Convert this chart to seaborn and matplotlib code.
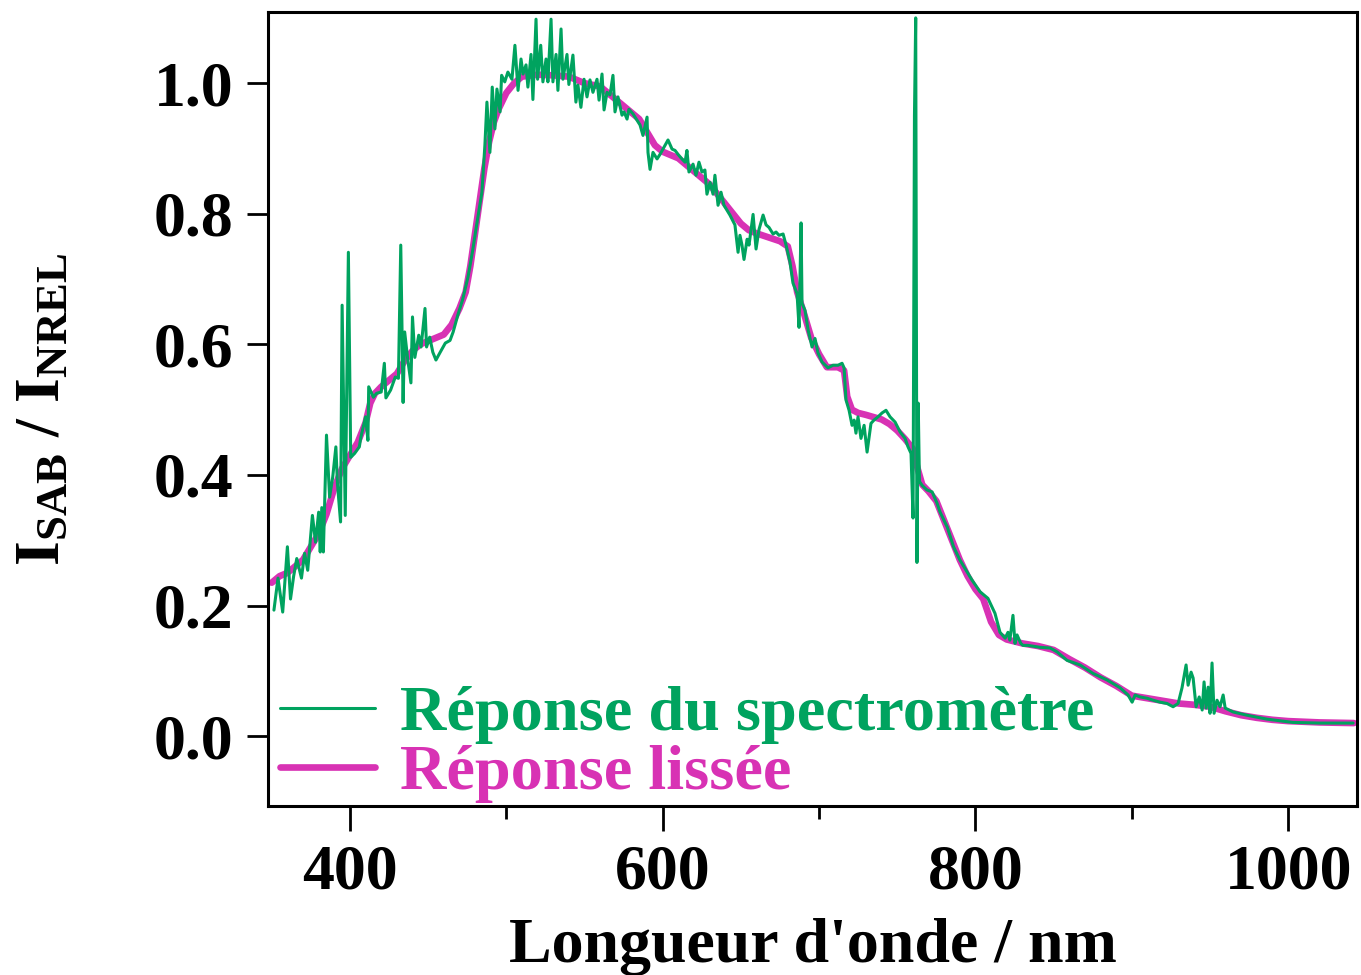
import matplotlib
matplotlib.use("Agg")
import matplotlib.pyplot as plt
import seaborn as sns
import pandas as pd
from matplotlib.ticker import MultipleLocator

# ---------------- data ----------------
smooth_wl = [350, 355, 360, 365, 370, 375, 380, 385, 390, 395, 400, 405, 410, 413, 416,
             420, 425, 430, 435, 440, 445, 450, 455, 460, 465, 470, 474, 477, 480, 483,
             486, 489, 492, 495, 500, 505, 510, 520, 530, 540, 550, 560, 565, 570, 575,
             580, 585, 590, 595, 600, 605, 610, 615, 620, 625, 630, 635, 640, 645, 650,
             655, 660, 670, 675, 680, 683, 686, 690, 695, 700, 705, 712, 716, 718, 721,
             725, 730, 740, 745, 750, 755, 760, 763, 766, 770, 775, 780, 785, 790, 795,
             800, 805, 810, 815, 820, 830, 840, 850, 860, 870, 880, 890, 900, 910, 920,
             930, 940, 950, 960, 970, 980, 990, 1000, 1020, 1042]
smooth_val = [0.235, 0.245, 0.25, 0.26, 0.27, 0.29, 0.31, 0.34, 0.38, 0.41, 0.43, 0.45, 0.48, 0.51, 0.525,
              0.535, 0.545, 0.555, 0.575, 0.59, 0.60, 0.605, 0.61, 0.615, 0.63, 0.655, 0.68, 0.72, 0.77, 0.82,
              0.87, 0.91, 0.94, 0.96, 0.985, 1.0, 1.01, 1.013, 1.012, 1.01, 1.0, 0.995, 0.985, 0.975, 0.965,
              0.955, 0.945, 0.925, 0.905, 0.895, 0.89, 0.885, 0.875, 0.865, 0.855, 0.845, 0.83, 0.815, 0.80, 0.785,
              0.775, 0.77, 0.762, 0.758, 0.75, 0.72, 0.68, 0.65, 0.61, 0.585, 0.565, 0.565, 0.56, 0.52, 0.50,
              0.495, 0.492, 0.485, 0.478, 0.468, 0.455, 0.44, 0.41, 0.385, 0.375, 0.36, 0.33, 0.30, 0.27, 0.245,
              0.225, 0.21, 0.175, 0.155, 0.148, 0.142, 0.138, 0.132, 0.118, 0.105, 0.09, 0.077, 0.062, 0.058, 0.054,
              0.05, 0.048, 0.045, 0.038, 0.032, 0.028, 0.025, 0.023, 0.021, 0.02]

raw_wl = [351.4, 354, 357, 360, 362, 364, 366, 369, 371, 373, 376, 378, 380, 381, 382, 383,
          385, 387, 389, 391, 392, 394, 395, 397, 399, 400.5, 403, 406, 407, 410, 411.5, 412,
          415, 417, 420, 422, 423, 426, 429, 431, 432.5, 434, 435, 437, 439, 440, 441.5, 444,
          445.5, 448, 449, 451, 453, 455, 457.5, 461, 464, 466, 469, 472, 475.5, 478.5, 480.5,
          484.4, 486.3, 487.6, 489.5, 491, 492.7, 494, 496, 497, 499, 501, 503.6, 505.5, 507.5,
          509.4, 510.7, 512.6, 513.8, 515.8, 517, 519, 520, 522, 523.4, 525.4, 526.6, 528.6,
          529.8, 531.8, 533, 535, 536.2, 538.8, 540, 542.6, 544.5, 545.8, 547.7, 549.7, 551.6,
          553.5, 555.4, 558, 559.3, 561.2, 562.5, 564.4, 566.3, 568.2, 569.5, 571.4, 574, 575.3,
          577.2, 578.4, 581, 583.6, 585.5, 587.4, 590, 590.6, 591.9, 593.8, 596.4, 598.3, 601.5,
          603.4, 606, 607.9, 609.8, 612.3, 614.3, 615.5, 616.8, 619.4, 621.3, 623.2, 625.1, 627,
          628.3, 630.3, 632.2, 633.4, 635.4, 637.3, 639.2, 643, 646.2, 648.2, 649.4, 650.7, 652,
          654, 655.2, 657.8, 659.7, 661.6, 664.2, 666.1, 668, 670.6, 672.5, 674.4, 677, 678.9,
          681.4, 683.3, 685.9, 687.2, 688.5, 689.1, 691, 693, 695.5, 697.4, 699.3, 701.9, 705.7,
          708.9, 712.1, 714.7, 716, 717.2, 719.2, 721.1, 722.4, 723.6, 724.9, 726.8, 728.8, 730.7,
          733.2, 735.1, 737.7, 740.3, 742.8, 745.4, 748.6, 751.8, 755, 756.9, 758.8, 760.1, 761,
          761.8, 762.6, 763.4, 764.2, 765.9, 769, 772.3, 775.4, 777.4, 782, 786, 790, 797.8, 803,
          808, 812.5, 815.7, 819, 820.8, 822, 824, 825.3, 826.6, 829, 830.4, 833.6, 841.3, 847.7,
          852.2, 858.6, 866.9, 875.2, 884.2, 892.5, 897.6, 900.2, 902.1, 905.3, 909.8, 913.6,
          918.1, 922.5, 926.4, 929.6, 932.1, 934.7, 936, 937.9, 939.2, 941.1, 943.1, 945, 946.2,
          947.5, 948.8, 950, 951.3, 952.6, 954.5, 956.4, 958.4, 959.7, 964.8, 973.7, 986.5, 1003,
          1020, 1041.5]
raw_val = [0.193, 0.242, 0.19, 0.29, 0.21, 0.245, 0.272, 0.242, 0.28, 0.254, 0.338, 0.297, 0.343, 0.282, 0.35, 0.282,
           0.461, 0.366, 0.397, 0.443, 0.387, 0.328, 0.66, 0.338, 0.741, 0.427, 0.433, 0.443, 0.458, 0.489, 0.453, 0.535,
           0.519, 0.525, 0.527, 0.571, 0.518, 0.53, 0.55, 0.548, 0.752, 0.511, 0.619, 0.576, 0.541, 0.642, 0.58, 0.614,
           0.596, 0.655, 0.596, 0.611, 0.588, 0.576, 0.587, 0.602, 0.606, 0.619, 0.645, 0.668, 0.703, 0.744, 0.775,
           0.833, 0.905, 0.971, 0.894, 0.994, 0.93, 0.991, 0.956, 1.012, 1.002, 1.017, 1.006, 1.058, 0.989,
           1.037, 1.014, 1.028, 0.994, 1.044, 0.975, 1.098, 1.006, 1.058, 1.002, 1.037, 1.002, 1.098,
           1.002, 1.044, 0.989, 1.083, 1.006, 1.044, 0.998, 1.043, 0.971, 0.997, 0.963, 1.006, 0.979,
           1.005, 0.986, 1.006, 0.974, 1.014, 0.959, 0.986, 0.982, 1.012, 0.956, 0.979, 0.951, 0.956,
           0.945, 0.96, 0.953, 0.943, 0.936, 0.92, 0.948, 0.894, 0.868, 0.894, 0.884, 0.891, 0.905,
           0.913, 0.899, 0.897, 0.891, 0.884, 0.879, 0.897, 0.864, 0.876, 0.859, 0.879, 0.864, 0.867,
           0.83, 0.848, 0.83, 0.859, 0.813, 0.833, 0.813, 0.798, 0.783, 0.741, 0.767, 0.752, 0.73,
           0.761, 0.752, 0.799, 0.746, 0.776, 0.798, 0.783, 0.779, 0.769, 0.772, 0.767, 0.769, 0.752,
           0.726, 0.694, 0.678, 0.626, 0.786, 0.663, 0.652, 0.622, 0.596, 0.609, 0.587, 0.573, 0.564,
           0.568, 0.568, 0.571, 0.564, 0.515, 0.499, 0.476, 0.484, 0.464, 0.489, 0.456, 0.476, 0.435,
           0.479, 0.484, 0.489, 0.495, 0.499, 0.489, 0.481, 0.466, 0.456, 0.443, 0.433, 0.334, 0.95,
           1.10, 0.266, 0.51, 0.39, 0.384, 0.377, 0.374, 0.357, 0.343, 0.32, 0.29, 0.27, 0.239, 0.221,
           0.211, 0.188, 0.159, 0.15, 0.159, 0.147, 0.185, 0.142, 0.155, 0.142, 0.139, 0.139, 0.136, 0.135,
           0.129, 0.116, 0.109, 0.096, 0.086, 0.074, 0.063, 0.052, 0.063, 0.06, 0.058, 0.055,
           0.052, 0.05, 0.045, 0.05, 0.074, 0.109, 0.078, 0.098, 0.089, 0.045, 0.06, 0.04, 0.083,
           0.043, 0.075, 0.035, 0.112, 0.035, 0.055, 0.045, 0.063, 0.043, 0.037, 0.032, 0.026, 0.021,
           0.02, 0.02]

x_ticks = [400, 600, 800, 1000]
y_ticks = [0.0, 0.2, 0.4, 0.6, 0.8, 1.0]
label_raw = "Réponse du spectromètre"
label_smooth = "Réponse lissée"
x_label = "Longueur d'onde / nm"
y_label = r"$\mathbf{I_{SAB}}$ / $\mathbf{I_{NREL}}$"

GREEN = "#00A35F"
MAGENTA = "#D832B4"

# ---------------- style ----------------
sns.set_theme(style="ticks")
plt.rcParams["font.family"] = ["Liberation Serif", "DejaVu Serif"]
plt.rcParams["font.weight"] = "bold"
plt.rcParams["mathtext.fontset"] = "custom"
plt.rcParams["mathtext.rm"] = "Liberation Serif:bold"
plt.rcParams["mathtext.bf"] = "Liberation Serif:bold"
plt.rcParams["mathtext.it"] = "Liberation Serif:bold"

fig = plt.figure(figsize=(13.61, 9.75), dpi=100)
ax = fig.add_axes([268 / 1361, 1 - 806 / 975, (1357 - 268) / 1361, (806 - 12) / 975])

df_s = pd.DataFrame({"wl": smooth_wl, "val": smooth_val})
df_r = pd.DataFrame({"wl": raw_wl, "val": raw_val})

sns.lineplot(data=df_s, x="wl", y="val", ax=ax, color=MAGENTA, lw=4.8,
             estimator=None, sort=False, label=label_smooth, zorder=2)
sns.lineplot(data=df_r, x="wl", y="val", ax=ax, color=GREEN, lw=2.2,
             estimator=None, sort=False, label=label_raw, zorder=3)

ax.set_xlim(347.6, 1044)
ax.set_ylim(-0.107, 1.109)
ax.set_xticks(x_ticks)
ax.set_yticks(y_ticks)
ax.set_yticklabels([f"{v:.1f}" for v in y_ticks])
ax.xaxis.set_minor_locator(MultipleLocator(100))

for s in ax.spines.values():
    s.set_linewidth(2.2)
    s.set_color("black")

ax.tick_params(axis="x", which="major", direction="out", length=18, width=2.0,
               labelsize=46, pad=10, colors="black", labelcolor="black")
ax.tick_params(axis="x", which="minor", direction="out", length=9, width=2.0, colors="black")
ax.tick_params(axis="y", which="major", direction="out", length=15, width=2.0,
               labelsize=46, pad=10, colors="black", labelcolor="black")
for lab in ax.get_xticklabels() + ax.get_yticklabels():
    lab.set_fontweight("bold")

ax.set_xlabel(x_label, fontsize=46, fontweight="bold", labelpad=11, color="black")
ax.set_ylabel(y_label, fontsize=46, fontweight="bold", labelpad=58, color="black")

handles, labels = ax.get_legend_handles_labels()
leg = ax.legend(handles[::-1], labels[::-1], loc="lower left",
                bbox_to_anchor=(-0.013, -0.029), frameon=False,
                prop={"family": "Liberation Serif", "weight": "bold", "size": 46.3},
                handlelength=1.48, handletextpad=0.39, labelspacing=0.0,
                borderaxespad=0.0, borderpad=0.4, labelcolor="linecolor")

fig.savefig("out.png", dpi=100)
